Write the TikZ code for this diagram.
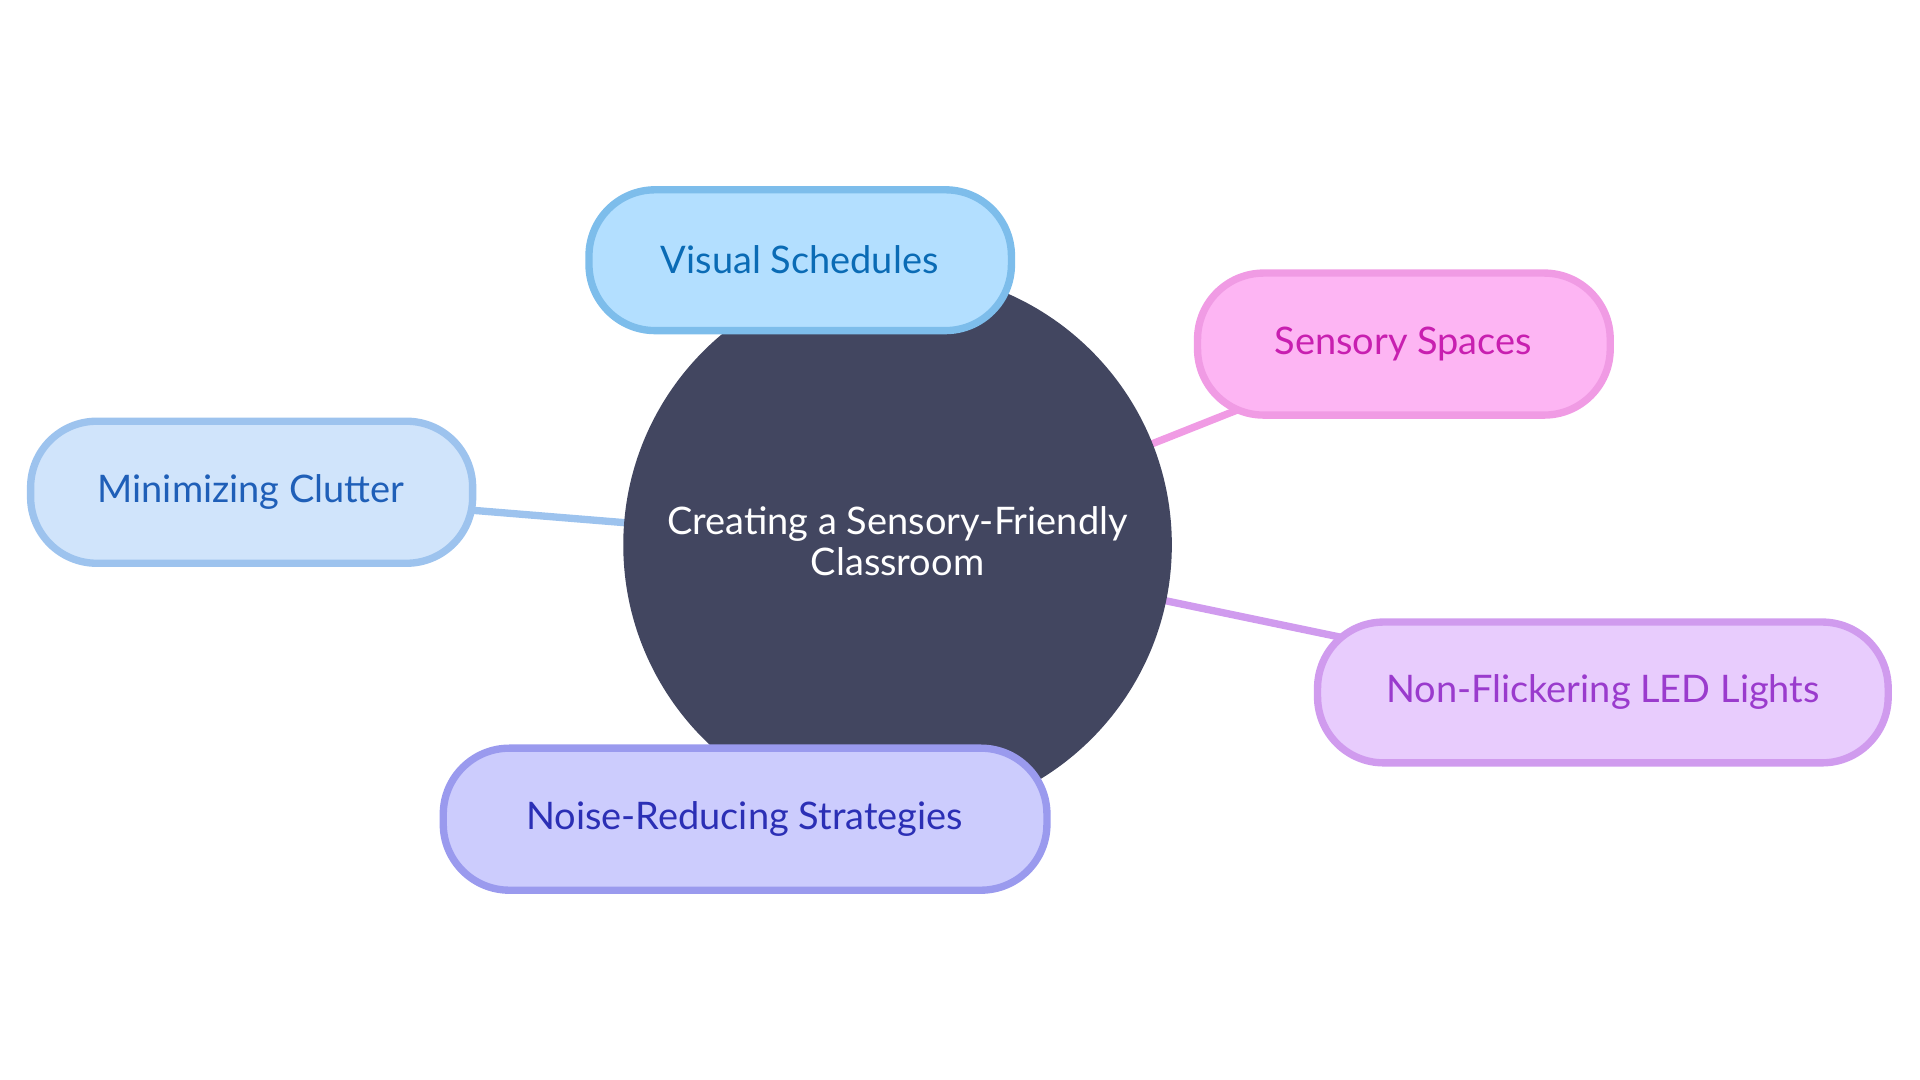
\documentclass[tikz,border=0pt]{standalone}
\usepackage{fontspec}
\setmainfont{Lato}
\begin{document}
\begin{tikzpicture}[x=0.5pt,y=-0.5pt,
 box/.style={rounded corners=27pt,line width=3pt,font=\fontsize{15.5}{18}\selectfont},
 edge/.style={line width=3pt}]
\useasboundingbox (0,0) rectangle (1568,882);
\definecolor{cen}{HTML}{424660}
\coordinate (c) at (733,445);
\coordinate (vs) at (653,212);
\coordinate (ss) at (1146,281);
\coordinate (mc) at (205,402);
\coordinate (nf) at (1309,565);
\coordinate (nr) at (608,669);
\draw[edge,color={rgb,255:red,125;green,189;blue,235}] (c) -- (vs);
\draw[edge,color={rgb,255:red,240;green,155;blue,228}] (c) -- (ss);
\draw[edge,color={rgb,255:red,157;green,195;blue,238}] (c) -- (mc);
\draw[edge,color={rgb,255:red,208;green,155;blue,238}] (c) -- (nf);
\draw[edge,color={rgb,255:red,154;green,154;blue,238}] (c) -- (nr);
\fill[cen] (c) circle (224);
\node[text=white,align=center,font=\fontsize{15.5}{17}\selectfont] (ct) at (733,442) {Creating a Sensory-Friendly\\Classroom};
\draw[box,fill={rgb,255:red,179;green,223;blue,255},draw={rgb,255:red,125;green,189;blue,235}] (481,155) rectangle (826,270);
\node[text={rgb,255:red,10;green,107;blue,181},font=\fontsize{15.5}{18}\selectfont] (vst) at (vs) {Visual Schedules};
\draw[box,fill={rgb,255:red,253;green,181;blue,243},draw={rgb,255:red,240;green,155;blue,228}] (978,223) rectangle (1315,339);
\node[text={rgb,255:red,200;green,31;blue,176},font=\fontsize{15.5}{18}\selectfont] (sst) at (ss) {Sensory Spaces};
\draw[box,fill={rgb,255:red,208;green,228;blue,251},draw={rgb,255:red,157;green,195;blue,238}] (25,344) rectangle (386,460);
\node[text={rgb,255:red,31;green,95;blue,184},font=\fontsize{15.5}{18}\selectfont] (mct) at (mc) {Minimizing Clutter};
\draw[box,fill={rgb,255:red,232;green,204;blue,253},draw={rgb,255:red,208;green,155;blue,238}] (1076,508) rectangle (1542,623);
\node[text={rgb,255:red,154;green,59;blue,205},font=\fontsize{15.5}{18}\selectfont] (nft) at (nf) {Non-Flickering LED Lights};
\draw[box,fill={rgb,255:red,204;green,204;blue,253},draw={rgb,255:red,154;green,154;blue,238}] (362,611) rectangle (855,727);
\node[text={rgb,255:red,43;green,47;blue,181},font=\fontsize{15.5}{18}\selectfont] (nrt) at (nr) {Noise-Reducing Strategies};
\end{tikzpicture}
\end{document}
